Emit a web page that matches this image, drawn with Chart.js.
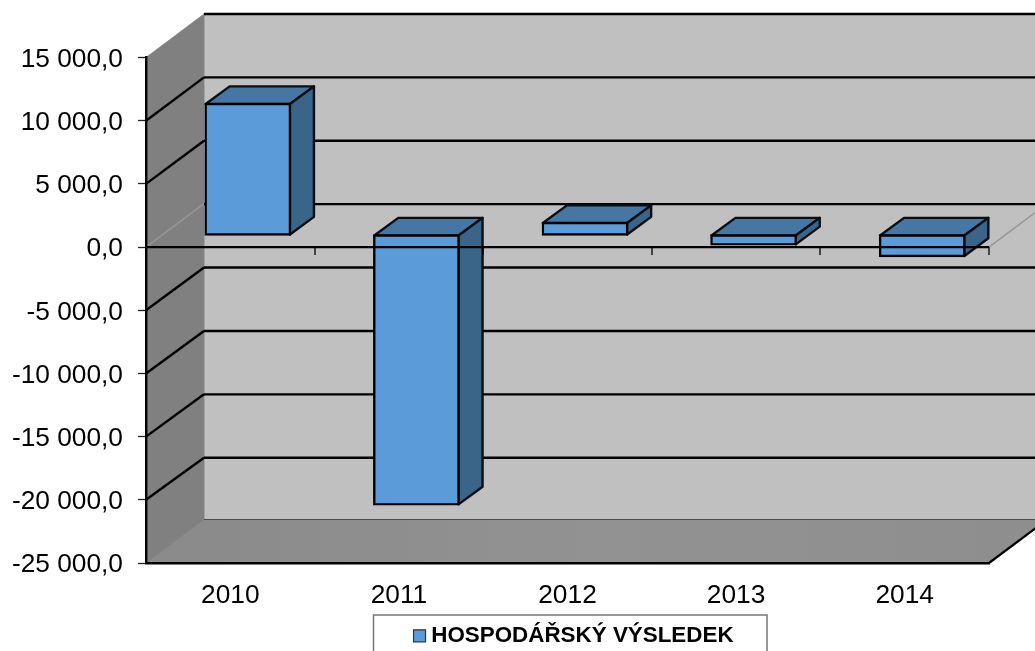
<!DOCTYPE html>
<html><head><meta charset="utf-8">
<style>html,body{margin:0;padding:0;background:#fff;overflow:hidden}canvas{display:block}</style>
<script src="https://cdn.jsdelivr.net/npm/chart.js@4"></script>
</head><body><canvas id="c" width="1035" height="651"></canvas>
<script>
const categories = ['2010','2011','2012','2013','2014'];
const seriesName = 'HOSPODÁŘSKÝ VÝSLEDEK';
const seriesValues = [10365,-21310,950,-735,-1660];
const yMin = -25000, yMax = 15000, yStep = 5000;

const WALL = {dx:58, dy:-43.5};
const GRID_STRETCH = 0.0032;
const BAR_FRONT = {dx:17.5, dy:-12};
const BAR_DEPTH = {dx:24, dy:-17.7};
const FONT = '"Liberation Sans", Arial, sans-serif';

function poly(ctx, pts, fill, stroke, lw){
  ctx.beginPath();
  pts.forEach((p,i)=> i?ctx.lineTo(p[0],p[1]):ctx.moveTo(p[0],p[1]));
  ctx.closePath();
  if(fill){ctx.fillStyle=fill;ctx.fill();}
  if(stroke){ctx.strokeStyle=stroke;ctx.lineWidth=lw;ctx.lineJoin='round';ctx.stroke();}
}
function line(ctx,x1,y1,x2,y2,color,lw){
  ctx.beginPath();ctx.moveTo(x1,y1);ctx.lineTo(x2,y2);
  ctx.strokeStyle=color;ctx.lineWidth=lw;ctx.stroke();
}
const walls = {
  id:'walls',
  afterLayout(chart){
    const lg = chart.legend; if(!lg) return;
    const w = lg.right-lg.left, c = 576.3;
    lg.left = c-w/2; lg.right = c+w/2;
    lg.top += 6; lg.bottom += 6;
  },
  beforeDraw(chart){
    const {ctx,scales:{x,y}} = chart;
    const L=x.left,R=x.right,T=y.getPixelForValue(yMax),B=y.getPixelForValue(yMin);
    const dx=WALL.dx,dy=WALL.dy;
    ctx.save();
    ctx.strokeStyle='#777';ctx.lineWidth=1.5;ctx.strokeRect(373.5,615,393.5,50);
    poly(ctx,[[L+dx,T+dy],[R+dx,T+dy],[R+dx,B+dy],[L+dx,B+dy]],'#c0c0c0');
    const g=ctx.createLinearGradient(L,0,R+dx,0);
    g.addColorStop(0,'#8a8a8a');g.addColorStop(0.5,'#929292');g.addColorStop(1,'#8e8e8e');
    poly(ctx,[[L,B],[L+dx,B+dy],[R+dx,B+dy],[R,B]],g,g,1);
    poly(ctx,[[L,T],[L+dx,T+dy],[L+dx,B+dy],[L,B]],'#808080','#808080',0.8);
    line(ctx,L+dx,B+dy,R+dx,B+dy,'#4d4d4d',1.2);
    line(ctx,R,B,R+dx,B+dy,'#000',2.2);
    for(let v=yMin+yStep;v<=yMax;v+=yStep){
      const p=y.getPixelForValue(v);
      const q=p+dy+(p-T)*GRID_STRETCH;
      line(ctx,L+dx,q,R+dx,q,'#000',2.4);
      if(v===0) continue;
      if(v<yMax) line(ctx,L,p,L+dx,q,'#000',2.4);
    }
    const z=y.getPixelForValue(0);
    line(ctx,L,z,L+dx,z+dy,'#969696',1.5);
    line(ctx,R,z,R+dx,z+dy,'#969696',1.5);
    ctx.restore();
  },
  beforeDatasetsDraw(chart){
    const {ctx}=chart, meta=chart.getDatasetMeta(0);
    ctx.save();
    ctx.translate(BAR_FRONT.dx,BAR_FRONT.dy);
    meta.data.forEach(el=>{
      const l=el.x-el.width/2,r=el.x+el.width/2;
      const t=Math.min(el.y,el.base),b=Math.max(el.y,el.base);
      const dx=BAR_DEPTH.dx,dy=BAR_DEPTH.dy;
      poly(ctx,[[l,t],[l+dx,t+dy],[r+dx,t+dy],[r,t]],'#4676a3','#0a0f14',2.4);
      poly(ctx,[[r,t],[r+dx,t+dy],[r+dx,b+dy],[r,b]],'#3a6589','#0a0f14',2.4);
    });
  },
  afterDatasetsDraw(chart){
    const {ctx,scales:{x,y}}=chart;
    ctx.restore();
    const z=y.getPixelForValue(0);
    ctx.save();
    line(ctx,x.left,z,x.right,z,'#000',2.2);
    const half=(x.getPixelForValue(1)-x.getPixelForValue(0))/2;
    categories.forEach((c,i)=>{
      const p=Math.round(x.getPixelForValue(i)+half);
      line(ctx,p,z,p,z+8,'#000',1.3);
    });
    ctx.restore();
  }
};

new Chart(document.getElementById('c'),{
  type:'bar',
  data:{labels:categories,datasets:[{
    label:seriesName,data:seriesValues,
    backgroundColor:'#5b9bd9',borderColor:'#000',borderWidth:2.4,borderSkipped:false,
    inflateAmount:1.2,
    barPercentage:0.5,categoryPercentage:1
  }]},
  options:{
    responsive:false,animation:false,
    layout:{padding:{top:57.5,right:46,left:0,bottom:0}},
    plugins:{
      tooltip:{enabled:false},
      legend:{position:'bottom',labels:{
        color:'#000',font:{family:FONT,size:22.4,weight:'bold'},
        usePointStyle:true,boxWidth:1,boxHeight:12,padding:8,
        generateLabels(chart){
          return [{text:seriesName,fillStyle:'#5b9bd9',strokeStyle:'#333',lineWidth:1.2,pointStyle:'rect',datasetIndex:0}];
        }
      }}
    },
    scales:{
      x:{
        type:'category',offset:true,
        border:{display:true,color:'#000',width:2.4},
        grid:{display:false,drawTicks:false},
        ticks:{color:'#000',font:{family:FONT,size:26.3},padding:17,maxRotation:0},
        afterFit(s){ s.height = 88 - (s.chart.legend?s.chart.legend.height:0); }
      },
      y:{
        min:yMin,max:yMax,
        border:{display:true,color:'#000',width:2.4},
        grid:{drawOnChartArea:false,drawTicks:true,tickLength:8,tickColor:'#222',tickWidth:1.3},
        ticks:{stepSize:yStep,color:'#000',font:{family:FONT,size:26.3},padding:15,labelOffset:2,
          callback(v){
            const a=Math.abs(v);
            const s=a>=1000?Math.floor(a/1000)+' '+String(a%1000).padStart(3,'0'):String(a);
            return (v<0?'-':'')+s+',0';
          }},
        afterFit(s){ s.width = 146; }
      }
    }
  },
  plugins:[walls]
});
</script>
</body></html>
